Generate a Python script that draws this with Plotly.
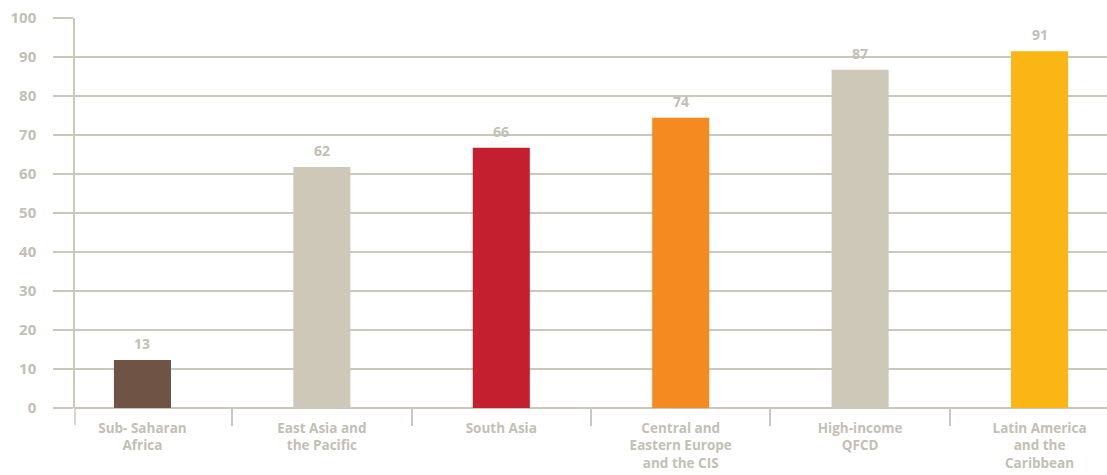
import plotly.graph_objects as go

categories = ["Sub- Saharan<br>Africa", "East Asia and<br>the Pacific", "South Asia",
              "Central and<br>Eastern Europe<br>and the CIS", "High-income<br>QFCD",
              "Latin America<br>and the<br>Caribbean"]
bar_values = [12.3, 61.8, 66.7, 74.4, 86.7, 91.5]
value_labels = ["13", "62", "66", "74", "87", "91"]
bar_colors = ["#6f5446", "#cdc8b8", "#c41f2f", "#f58b20", "#cdc8b8", "#fbb616"]
y_ticks = [0, 10, 20, 30, 40, 50, 60, 70, 80, 90, 100]

grid = "#cbc8bb"
txt = "#c2c0b3"
font_family = "Open Sans"

fig = go.Figure()
fig.add_trace(go.Bar(
    x=categories, y=bar_values, marker=dict(color=bar_colors, line=dict(width=0)),
    width=0.318, hoverinfo="skip",
))
for c, v, t in zip(categories, bar_values, value_labels):
    fig.add_annotation(x=c, y=v, text=t, showarrow=False, yanchor="bottom", yshift=5,
                       font=dict(family=font_family, size=14, color=txt, weight="bold"))

fig.update_layout(
    width=1107, height=475,
    margin=dict(l=75, r=0, t=18, b=67),
    paper_bgcolor="white", plot_bgcolor="white",
    showlegend=False,
    font=dict(family=font_family, color=txt, size=14, weight="bold"),
)
fig.update_xaxes(
    type="category", range=[-0.376, 5.376], tickson="boundaries",
    ticks="outside", ticklen=17, tickwidth=1.5, tickcolor=grid,
    showgrid=False, showline=False, zeroline=False, automargin=False,
    ticklabelstandoff=10,
    tickfont=dict(family=font_family, size=13.5, color=txt, weight="bold"),
)
fig.update_yaxes(
    range=[0, 100], tickvals=y_ticks, showgrid=True, gridcolor=grid, gridwidth=1.5,
    zeroline=True, zerolinecolor=grid, zerolinewidth=1.5,
    showline=True, linecolor=grid, linewidth=1.5, automargin=False,
    ticks="outside", ticklen=20, tickwidth=1.5, tickcolor=grid,
    ticklabelstandoff=14,
    tickfont=dict(family=font_family, size=15, color=txt, weight="bold"),
)
fig.add_shape(type="line", xref="paper", yref="paper", x0=0, x1=0, y0=0, y1=-17/390,
              line=dict(color=grid, width=1.5))

fig.write_html("out.html")
